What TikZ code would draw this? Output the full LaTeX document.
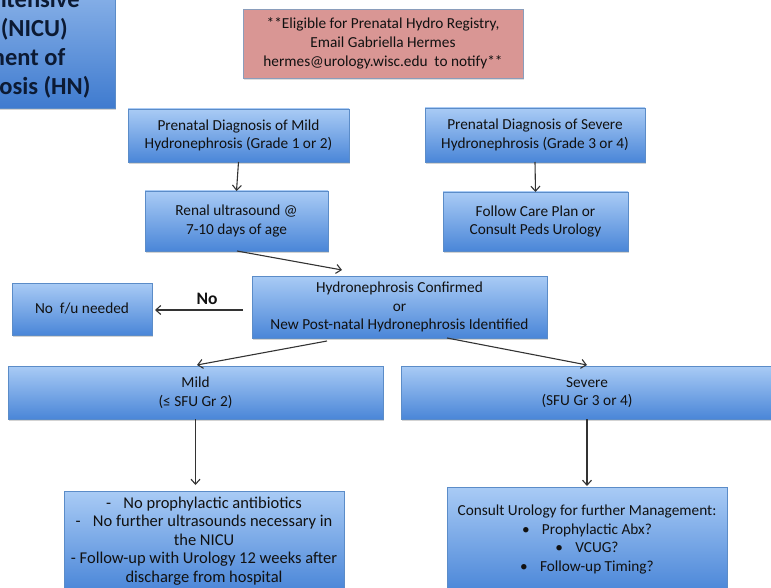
\documentclass[tikz,border=0pt]{standalone}
\usepackage{fontspec}
\setmainfont{Carlito}
\usetikzlibrary{arrows.meta,shadows,calc}
\definecolor{bTop}{HTML}{A9CBF5}
\definecolor{bBot}{HTML}{4A86D8}
\definecolor{bEdge}{HTML}{5B8CC8}
\definecolor{pinkF}{HTML}{D99694}
\definecolor{pinkE}{HTML}{8A9DBB}
\definecolor{txt}{HTML}{111111}
\definecolor{lineC}{HTML}{333333}
\definecolor{tTop}{HTML}{8FB6EA}
\definecolor{tBot}{HTML}{3F7BCF}
\definecolor{tTxt}{HTML}{0C1A33}
\tikzset{
  bluebox/.style={draw=bEdge, line width=0.6pt, top color=bTop, bottom color=bBot,
    inner sep=0pt, outer sep=0pt, align=center, text=txt,
    font=\fontsize{15.3}{18.5}\selectfont,
    drop shadow={opacity=0.35, shadow xshift=1pt, shadow yshift=-2pt}},
  pinkbox/.style={draw=pinkE, line width=0.6pt, fill=pinkF, inner sep=0pt, outer sep=0pt,
    align=center, text=txt, font=\fontsize{15.3}{19}\selectfont,
    drop shadow={opacity=0.25, shadow xshift=1pt, shadow yshift=-2pt}},
  conn/.style={draw=lineC, line width=1.1pt, -{Straight Barb[length=5pt,width=9pt,line width=1.1pt]}},
}
\begin{document}
\begin{tikzpicture}[x=1pt,y=-1pt]
\useasboundingbox (0,0) rectangle (771,588);
\clip (0,0) rectangle (771,588);
% title box (cut off at the left)
\node[bluebox, top color=tTop, bottom color=tBot, text=tTxt,
  font=\fontsize{24.5}{29}\bfseries\selectfont,
  minimum width=262pt, minimum height=128pt] (title) at (-16,44)
  {Neonatal Intensive\\Care Unit (NICU)\\Management of\\Hydronephrosis (HN)};
% pink note
\node[pinkbox, minimum width=280pt, minimum height=69pt] (note) at (383,43.5)
  {**Eligible for Prenatal Hydro Registry,\\Email Gabriella Hermes\\hermes@urology.wisc.edu\ \ to notify**};
% prenatal boxes
\node[bluebox, minimum width=221pt, minimum height=53pt] (pmild) at (238.5,135.5)
  {Prenatal Diagnosis of Mild\\Hydronephrosis (Grade 1 or 2)};
\node[bluebox, minimum width=220pt, minimum height=54pt] (psev) at (535,135)
  {Prenatal Diagnosis of Severe\\Hydronephrosis (Grade 3 or 4)};
\node[bluebox, minimum width=183pt, minimum height=60pt] (renal) at (236.5,221)
  {Renal ultrasound @\\7-10 days of age};
\node[bluebox, minimum width=185pt, minimum height=59pt] (follow) at (535.5,221.5)
  {Follow Care Plan or\\Consult Peds Urology};
\node[bluebox, minimum width=140pt, minimum height=52pt] (nofu) at (82,309)
  {No\ \ f/u needed};
\node[bluebox, minimum width=295pt, minimum height=62pt] (hydro) at (399.5,307)
  {Hydronephrosis Confirmed\\or\\New Post-natal Hydronephrosis Identified};
\node[bluebox, minimum width=375pt, minimum height=53pt] (mild) at (195.5,392.5)
  {Mild\\(≤ SFU Gr 2)};
\node[bluebox, minimum width=372pt, minimum height=53pt] (severe) at (587,392.5)
  {Severe\\(SFU Gr 3 or 4)};
\node[bluebox, minimum width=280pt, minimum height=100pt, font=\fontsize{16.5}{18.5}\selectfont] (botL) at (204,541)
  {-\hspace{0.75em}No prophylactic antibiotics\\
   -\hspace{0.75em}No further ultrasounds necessary in\\
   the NICU\\
   - Follow-up with Urology 12 weeks after\\
   discharge from hospital};
\node[bluebox, minimum width=280pt, minimum height=105pt] (botR) at (587,539.5)
  {Consult Urology for further Management:\\
   •\hspace{0.8em}Prophylactic Abx?\\
   •\hspace{0.8em}VCUG?\\
   •\hspace{0.8em}Follow-up Timing?};
% connectors
\coordinate (c1) at (342,270);
\draw[conn] (pmild.south) -- (renal.north);
\draw[conn] (psev.south) -- (follow.north);
\draw[conn] ($(renal.south)+(0.5,0)$) -- (c1);
\draw[conn] ($(hydro.west)+(-9,3)$) -- node[above=1pt, xshift=8pt, font=\fontsize{17.5}{17.5}\bfseries\selectfont, text=txt] {No} ($(nofu.east)+(3,1)$);
\draw[conn] ($(hydro.south west)+(75,3)$) -- ($(mild.north)+(1.5,-1)$);
\draw[conn] ($(hydro.south west)+(195,0)$) -- ($(severe.north)+(0,-1)$);
\draw[conn] (mild.south) -- ($(mild.south |- botL.north)+(0,-6)$);
\draw[conn] (severe.south) -- ($(botR.north)+(0,-1)$);
\end{tikzpicture}
\end{document}
